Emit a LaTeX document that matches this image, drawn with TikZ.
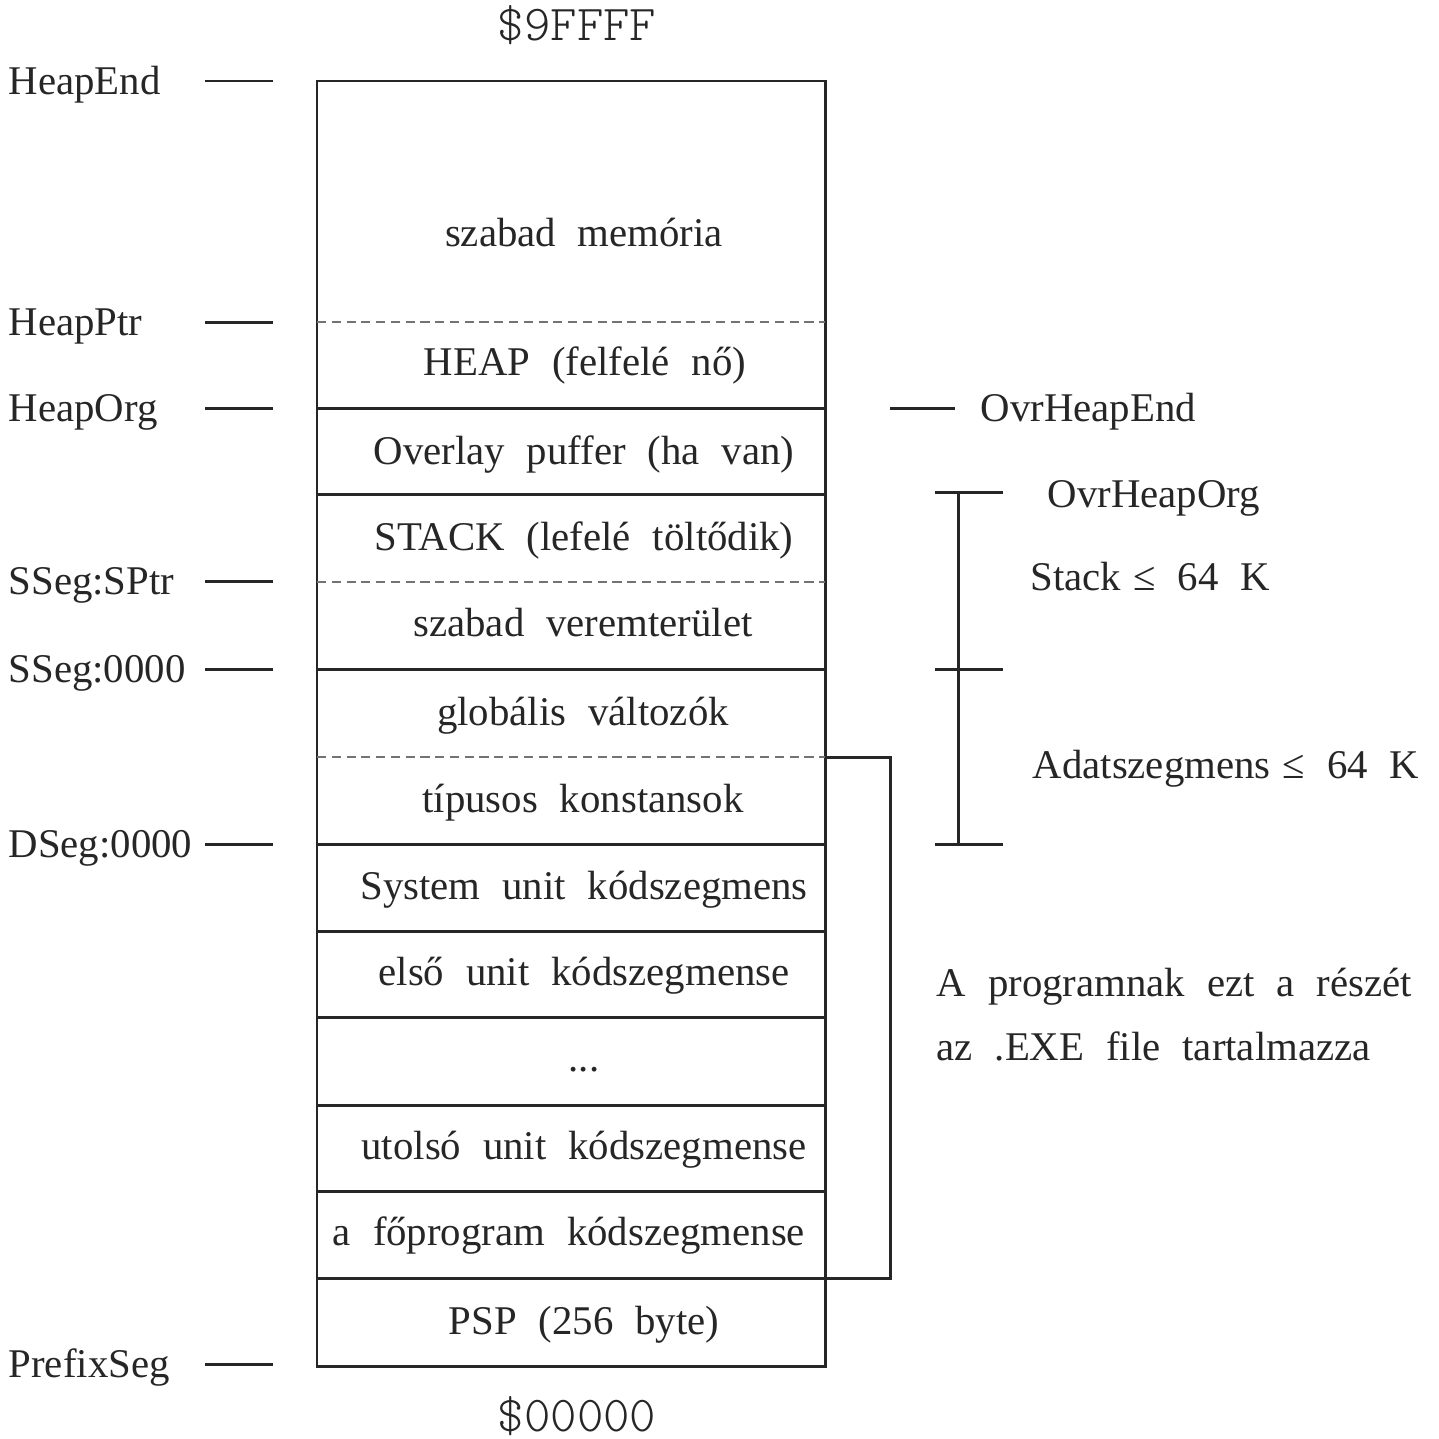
\documentclass[tikz,border=0pt]{standalone}
\usepackage{fontspec}
\setmainfont{Liberation Serif}[WordSpace={2.15}]
\setmonofont{Latin Modern Mono Light}
\begin{document}
\begin{tikzpicture}[x=0.01cm,y=-0.01cm,
  ink/.style={draw=black!85, line width=0.85pt},
  divide/.style={draw=black!55, line width=0.4pt, dash pattern=on 2.6pt off 1.6pt},
  lbl/.style={anchor=base, inner sep=0pt, text=black!85, font=\fontsize{11.6}{14}\selectfont},
  lblw/.style={lbl, anchor=base west},
  addr/.style={anchor=base, inner sep=0pt, text=black!85, font=\ttfamily\fontsize{14.3}{16}\selectfont}]
\useasboundingbox (0,0) rectangle (1438,1439);

% memory column: outer frame, solid and dashed partitions
\coordinate (frameTL) at (317,81);
\coordinate (frameBR) at (825,1366);
\draw[ink] (frameTL) rectangle (frameBR);
\foreach \yy in {408,494,669,844,931,1017,1105,1191,1278}
  \draw[ink] (317,\yy) -- (825,\yy);
\foreach \yy in {322,582,757}
  \draw[divide] (317,\yy) -- (825,\yy);

% contents of the segments
\node[lbl] (free)   at (584,246)  {szabad memória};
\node[lbl] (heap)   at (585,375)  {HEAP (felfelé nő)};
\node[lbl] (ovl)    at (584,464)  {Overlay puffer (ha van)};
\node[lbl] (stack)  at (584,550)  {STACK (lefelé töltődik)};
\node[lbl] (sfree)  at (583,636)  {szabad veremterület};
\node[lbl] (glob)   at (583,725)  {globális változók};
\node[lbl] (tconst) at (583,812)  {típusos konstansok};
\node[lbl] (sysu)   at (584,899)  {System unit kódszegmens};
\node[lbl] (first)  at (584,985)  {első unit kódszegmense};
\node[lbl] (dots)   at (584,1071) {...};
\node[lbl] (last)   at (584,1159) {utolsó unit kódszegmense};
\node[lbl] (mainp)  at (569,1245) {a főprogram kódszegmense};
\node[lbl] (psp)    at (584,1334) {PSP (256 byte)};

% address limits
\node[addr] (top) at (577,40)   {\$9FFFF};
\node[addr] (bot) at (577,1431) {\$00000};

% pointer names on the left with their marks
\foreach \nm/\txt/\yy in {hend/HeapEnd/81, hptr/HeapPtr/322, horg/HeapOrg/408,
    ssp/SSeg:SPtr/581, ss0/SSeg:0000/669, ds0/DSeg:0000/844, pfx/PrefixSeg/1364}{
  \node[lblw] (\nm) at (8,\yy+13) {\txt};
  \coordinate (\nm-a) at (205,\yy);
  \coordinate (\nm-b) at (273,\yy);
  \draw[ink] (\nm-a) -- (\nm-b);
}

% overlay heap end
\coordinate (ohe-a) at (890,408);
\coordinate (ohe-b) at (955,408);
\draw[ink] (ohe-a) -- (ohe-b);
\node[lblw] (ohe) at (980,421) {OvrHeapEnd};

% stack and data segment range bar
\coordinate (barT) at (958,492);
\coordinate (barM) at (958,669);
\coordinate (barB) at (958,844);
\draw[ink] (barT) -- (barB);
\draw[ink] (935,492) -- (1003,492);
\draw[ink] (935,669) -- (1003,669);
\draw[ink] (935,844) -- (1003,844);
\node[lblw] (oho)  at (1047,507) {OvrHeapOrg};
\node[lblw] (stk)  at (1030,590) {Stack\hspace{0.3em}≤ 64 K};
\node[lblw] (dseg) at (1032,778) {Adatszegmens\hspace{0.3em}≤ 64 K};

% part of the program stored in the executable
\coordinate (exeT) at (825,757);
\coordinate (exeB) at (825,1278);
\draw[ink] (exeT) -- (890,757) -- (890,1278) -- (exeB);
\node[lblw] (exe1) at (936,996)  {A programnak ezt a részét};
\node[lblw] (exe2) at (936,1060) {az .EXE file tartalmazza};
\end{tikzpicture}
\end{document}
